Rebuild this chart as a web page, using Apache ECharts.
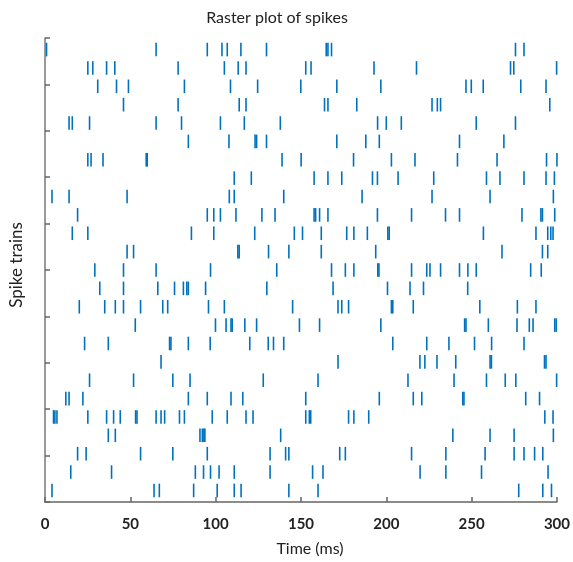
<!DOCTYPE html>
<html>
<head>
<meta charset="utf-8">
<script src="https://cdn.jsdelivr.net/npm/echarts@6/dist/echarts.min.js"></script>
<style>html,body{margin:0;padding:0;background:#fff}#c{width:573px;height:562px}</style>
</head>
<body>
<div id="c"></div>
<script>
// Spike times (ms) for each spike train, top to bottom
const train01 = [0.9, 65.1, 95.1, 103.7, 106.8, 114.8, 129.8, 164.8, 165.8, 167.9, 275.7, 280.7];
const train02 = [25.1, 28.0, 36.1, 40.9, 78.0, 105.1, 113.2, 117.8, 152.8, 155.9, 192.8, 217.7, 272.8, 274.7, 299.8];
const train03 = [30.9, 41.9, 48.9, 81.7, 108.7, 124.6, 149.9, 171.0, 196.8, 246.7, 249.8, 256.8, 278.8, 293.6];
const train04 = [46.0, 78.0, 113.8, 117.8, 163.8, 165.8, 182.7, 226.8, 229.9, 231.8, 295.8];
const train05 = [14.1, 16.0, 26.1, 65.1, 80.0, 102.8, 116.8, 137.9, 194.9, 200.0, 208.8, 252.7, 275.7];
const train06 = [84.0, 107.8, 123.1, 124.0, 129.8, 171.0, 188.0, 195.9, 242.9, 268.9];
const train07 = [25.1, 27.0, 34.0, 59.3, 59.9, 138.9, 150.1, 180.8, 203.0, 216.8, 241.7, 264.9, 293.9, 300.0];
const train08 = [110.9, 120.9, 157.7, 165.8, 173.9, 191.9, 194.8, 206.9, 227.8, 258.7, 266.6, 280.7, 293.6, 298.5];
const train09 = [4.1, 14.1, 48.1, 108.0, 110.9, 139.9, 185.8, 226.8, 260.8, 297.9];
const train10 = [19.1, 95.1, 98.9, 102.8, 111.9, 127.1, 134.8, 157.7, 158.6, 160.9, 165.8, 194.8, 214.8, 234.7, 242.9, 279.5, 290.6, 291.5, 298.7];
const train11 = [16.0, 25.1, 85.8, 98.9, 122.9, 146.1, 150.9, 161.9, 176.8, 181.0, 188.9, 200.9, 201.7, 256.9, 287.7, 294.6, 296.4, 297.7];
const train12 = [48.1, 51.9, 113.0, 113.8, 131.0, 142.9, 161.9, 193.8, 267.8, 291.5, 294.6];
const train13 = [29.2, 46.0, 65.1, 97.0, 135.8, 167.9, 176.0, 181.0, 195.0, 195.7, 214.8, 223.7, 225.6, 231.8, 242.9, 247.8, 252.7, 284.6, 290.8];
const train14 = [32.1, 46.0, 66.1, 75.9, 81.1, 83.1, 84.0, 94.1, 130.0, 168.8, 200.7, 213.9, 221.8, 247.7];
const train15 = [20.1, 35.0, 41.2, 46.0, 56.0, 69.0, 71.9, 95.8, 105.1, 145.1, 171.7, 173.9, 177.9, 203.0, 203.8, 215.8, 254.8, 276.8, 287.7];
const train16 = [52.9, 99.9, 106.1, 109.0, 109.7, 117.1, 124.0, 149.1, 160.9, 196.8, 245.9, 246.7, 259.8, 276.6, 283.8, 286.0, 298.7, 299.6];
const train17 = [23.2, 37.1, 73.0, 73.8, 84.0, 96.8, 120.0, 130.8, 133.9, 139.9, 203.8, 223.7, 236.7, 251.7, 261.7, 280.7];
const train18 = [68.0, 171.7, 219.7, 222.6, 229.7, 240.7, 260.8, 261.6, 292.7, 293.6];
const train19 = [26.1, 51.9, 74.9, 85.0, 127.9, 160.0, 212.7, 239.7, 258.7, 269.7, 275.9, 299.8];
const train20 = [12.2, 14.1, 22.2, 84.0, 95.1, 109.0, 115.9, 152.8, 195.9, 215.8, 220.8, 244.8, 245.5, 281.7, 289.8];
const train21 = [5.0, 5.8, 7.0, 25.1, 36.1, 40.2, 44.1, 53.1, 53.9, 65.1, 68.0, 70.1, 78.8, 81.7, 98.0, 106.8, 117.8, 121.9, 152.8, 154.9, 155.7, 177.9, 181.0, 189.7, 292.9, 297.7];
const train22 = [37.1, 41.2, 90.8, 92.2, 93.1, 93.7, 138.1, 239.0, 260.8, 274.9, 297.9];
const train23 = [19.1, 24.1, 56.0, 74.9, 95.1, 131.9, 141.0, 142.9, 172.7, 176.0, 214.8, 234.9, 257.9, 274.9, 280.7, 286.9, 291.7];
const train24 = [15.1, 39.0, 88.1, 92.9, 97.0, 102.0, 110.9, 131.9, 156.8, 162.9, 219.8, 234.9, 255.8, 294.8];
const train25 = [4.1, 63.9, 67.0, 87.1, 100.9, 110.9, 114.9, 142.9, 160.0, 277.6, 291.7, 296.8];

const trains = [train01, train02, train03, train04, train05, train06, train07, train08, train09, train10,
  train11, train12, train13, train14, train15, train16, train17, train18, train19, train20,
  train21, train22, train23, train24, train25];

const xTicks = [0, 50, 100, 150, 200, 250, 300];

const points = [];
trains.forEach((tr, i) => tr.forEach(t => points.push([t, i])));

const FONT = 'Lato';
const chart = echarts.init(document.getElementById('c'), null, {renderer: 'canvas'});
chart.setOption({
  animation: false,
  backgroundColor: '#fff',
  title: {
    text: 'Raster plot of spikes',
    left: 272, top: 5,
    textAlign: 'center',
    textStyle: {fontFamily: FONT, fontSize: 16, fontWeight: 'normal', color: '#222'}
  },
  grid: {left: 44.7, right: 10.7, top: 38, bottom: 58, containLabel: false},
  xAxis: {
    type: 'value', min: xTicks[0], max: xTicks[xTicks.length - 1], interval: 50,
    name: 'Time (ms)', nameLocation: 'middle', nameGap: 39,
    nameTextStyle: {fontFamily: FONT, fontSize: 16, color: '#222', padding: [0, 0, 0, 18]},
    axisLine: {show: true, onZero: false, lineStyle: {color: '#666', width: 1.5}},
    axisTick: {show: true, inside: true, length: 5, lineStyle: {color: '#666', width: 1.5}},
    axisLabel: {fontFamily: FONT, fontSize: 15, color: '#222', margin: 15, fontWeight: 'bold'},
    splitLine: {show: false}
  },
  yAxis: [{
    type: 'value', inverse: true, min: -0.63, max: 24.63,
    name: 'Spike trains', nameLocation: 'middle', nameGap: 20,
    nameTextStyle: {fontFamily: FONT, fontSize: 17, color: '#222', padding: [0, 0, 0, 10]},
    axisLine: {show: false}, axisTick: {show: false}, axisLabel: {show: false},
    splitLine: {show: false}
  }, {
    type: 'value', position: 'left', min: 0, max: 10, interval: 1,
    axisLine: {show: true, onZero: false, lineStyle: {color: '#777', width: 1.5}},
    axisTick: {show: true, inside: true, length: 5, lineStyle: {color: '#666', width: 1.5}},
    axisLabel: {show: false}, splitLine: {show: false}
  }],
  series: [{
    type: 'scatter',
    yAxisIndex: 0,
    symbol: 'rect',
    symbolSize: [1.6, 13.6],
    itemStyle: {color: '#0072BD', opacity: 1},
    data: points
  }]
});
</script>
</body>
</html>
